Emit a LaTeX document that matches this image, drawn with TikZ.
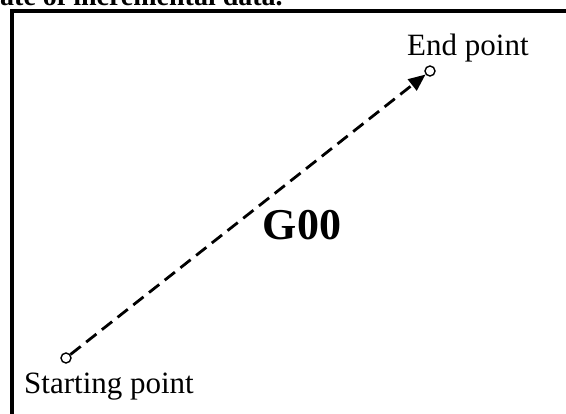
\documentclass[tikz,border=0pt]{standalone}
\usepackage{fontspec}
\setmainfont{Liberation Serif}
\usetikzlibrary{arrows.meta}

\begin{document}
\begin{tikzpicture}[x=1pt,y=-1pt,
  pt/.style={draw,circle,line width=1.4pt,inner sep=0pt,minimum size=10pt,fill=white},
  lbl/.style={font=\fontsize{31}{34}\selectfont,inner sep=0pt,anchor=base west},
  rapid/.style={line width=2.8pt,dash pattern=on 13pt off 7pt,-{Triangle[length=17pt,width=14pt]}}]
  \useasboundingbox (0,0) rectangle (566,414);
  \clip (0,0) rectangle (566,414);
  % caption, cut off at the top
  \node[lbl,font=\fontsize{28}{32}\selectfont\bfseries] (cap) at (0,6) {ate of incremental data.};
  % frame
  \draw[line width=3.5pt] (12,430) -- (12,11) -- (580,11);
  % points
  \node[pt] (start) at (66,358) {};
  \node[pt] (finish) at (430,71) {};
  \draw[rapid] (start) -- (finish);
  % labels
  \node[lbl] (startlbl) at (24,394) {Starting point};
  \node[lbl] (endlbl) at (407,56) {End point};
  \node[font=\fontsize{44}{48}\selectfont\bfseries,inner sep=0pt] (mode) at (302,225) {G00};
\end{tikzpicture}
\end{document}
